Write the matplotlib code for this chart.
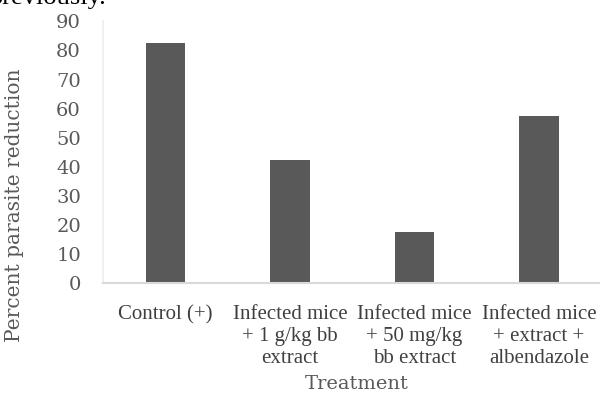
import matplotlib
matplotlib.use("Agg")
import matplotlib.pyplot as plt

categories = [
    "Control (+)",
    "Infected mice\n+ 1 g/kg bb\nextract",
    "Infected mice\n+ 50 mg/kg\nbb extract",
    "Infected mice\n+ extract +\nalbendazole",
]
reduction = [82.5, 42.3, 17.5, 57.4]
yticks = [0, 10, 20, 30, 40, 50, 60, 70, 80, 90]

fig = plt.figure(figsize=(6.0, 3.94), dpi=100)
ax = fig.add_axes([0.172, 0.2825, 0.83, 0.663])

x = range(len(categories))
ax.bar(x, reduction, width=0.32, color="#595959", zorder=2)

ax.set_xlim(-0.5, len(categories) - 0.5)
ax.set_ylim(0, 90)
ax.set_yticks(yticks)
ax.set_yticklabels([str(t) for t in yticks], fontsize=14, color="#595959",
                   family="DejaVu Serif")
ax.set_xticks(list(x))
ax.set_xticklabels(categories, fontsize=15, color="#404040",
                   family="Liberation Serif", linespacing=1.22)
ax.tick_params(axis="y", length=0, pad=16)
ax.tick_params(axis="x", length=0, pad=16)

for side in ("top", "right"):
    ax.spines[side].set_visible(False)
ax.spines["left"].set_color("#f0ede4")
ax.spines["left"].set_linewidth(1.2)
ax.spines["bottom"].set_color("#d9d9d9")
ax.spines["bottom"].set_linewidth(1.5)

ax.set_ylabel("Percent parasite reduction", fontsize=14.5, color="#595959",
              family="DejaVu Serif")
ax.yaxis.set_label_coords(-0.159, 0.297)
ax.set_xlabel("Treatment", fontsize=14, color="#595959",
              family="DejaVu Serif")
ax.xaxis.set_label_coords(0.509, -0.352)

# trailing word of the paragraph above the figure
fig.text(106 / 600, 1 - 4 / 394, "previously.", ha="right", va="baseline",
         fontsize=19, color="black", family="Liberation Serif")

fig.savefig("out.png", dpi=100)
